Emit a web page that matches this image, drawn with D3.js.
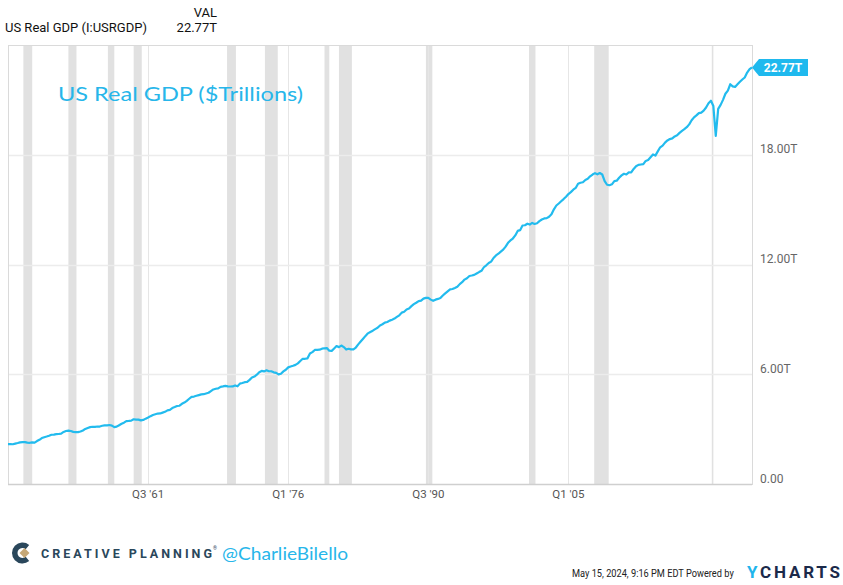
<!DOCTYPE html>
<html>
<head>
<meta charset="utf-8">
<script src="https://cdn.jsdelivr.net/npm/d3@7"></script>
<style>
  body { margin: 0; background: #fff; }
  svg { display: block; font-family: Roboto, "Liberation Sans", sans-serif; }
</style>
</head>
<body>
<div id="chart"></div>
<script>
// quarterly US real GDP, billions of chained 2017 dollars, starting 1947 Q1
var gdp1940s = [2182.7, 2176.9, 2172.4, 2206.5, 2239.7, 2276.7, 2289.8, 2292.4,
    2260.8, 2253.1, 2276.4, 2257.4];
var gdp1950s = [2346.1, 2417.7, 2511.1, 2559.2, 2594.0, 2638.9, 2693.3, 2699.6,
    2727.0, 2733.6, 2755.6, 2847.1, 2896.6, 2919.3, 2897.3, 2850.9,
    2838.8, 2837.3, 2869.5, 2926.4, 3011.3, 3064.0, 3108.7, 3130.1,
    3124.0, 3142.8, 3140.8, 3182.9, 3205.5, 3201.0, 3223.9, 3190.4,
    3109.6, 3138.1, 3212.9, 3290.6, 3353.3, 3441.6, 3448.1, 3463.0];
var gdp1960s = [3539.6, 3515.3, 3520.1, 3477.6, 3504.0, 3572.7, 3633.8, 3708.5,
    3774.4, 3815.6, 3852.4, 3858.7, 3902.8, 3946.0, 4026.6, 4054.8,
    4151.9, 4205.4, 4265.0, 4279.4, 4385.3, 4451.4, 4546.8, 4659.6,
    4765.9, 4779.8, 4822.0, 4861.3, 4900.8, 4908.1, 4950.1, 4987.3,
    5079.0, 5169.2, 5205.5, 5227.6, 5313.8, 5334.2, 5364.1, 5339.0];
var gdp1970s = [5330.4, 5332.6, 5387.8, 5339.3, 5487.6, 5519.8, 5566.1, 5580.8,
    5693.1, 5821.9, 5876.1, 5976.8, 6112.8, 6182.8, 6154.1, 6213.3,
    6163.3, 6164.2, 6103.3, 6079.5, 5991.0, 6029.7, 6154.6, 6244.0,
    6375.6, 6423.5, 6462.0, 6512.4, 6593.0, 6723.9, 6845.2, 6845.1,
    6869.2, 7133.5, 7209.1, 7328.8, 7337.8, 7343.8, 7400.1, 7419.7];
var gdp1980s = [7432.9, 7286.9, 7279.5, 7408.4, 7539.1, 7483.3, 7568.6, 7485.7,
    7351.4, 7391.5, 7358.4, 7363.9, 7460.4, 7633.4, 7786.1, 7944.6,
    8096.6, 8237.0, 8312.4, 8382.4, 8466.9, 8537.8, 8666.5, 8732.6,
    8820.9, 8853.6, 8933.0, 8983.4, 9044.4, 9134.0, 9220.6, 9368.9,
    9415.9, 9540.6, 9594.8, 9725.4, 9831.4, 9910.4, 10000.8, 10024.9];
var gdp1990s = [10133.6, 10175.0, 10175.5, 10079.7, 10013.6, 10078.4, 10117.8, 10165.2,
    10305.3, 10419.4, 10530.3, 10638.3, 10659.3, 10718.0, 10781.1, 10927.6,
    11030.4, 11174.5, 11250.5, 11373.6, 11400.0, 11434.3, 11510.0, 11585.0,
    11655.0, 11850.0, 11955.0, 12080.0, 12155.0, 12355.0, 12495.0, 12590.0,
    12705.0, 12810.0, 12975.0, 13185.0, 13315.0, 13420.0, 13590.0, 13837.0];
var gdp2000s = [13878.1, 14130.9, 14145.3, 14229.8, 14183.1, 14271.7, 14214.5, 14253.6,
    14372.8, 14460.8, 14519.6, 14537.6, 14614.1, 14743.6, 15016.9, 15224.6,
    15335.5, 15454.8, 15577.0, 15705.5, 15853.1, 15957.6, 16091.2, 16185.5,
    16418.1, 16468.5, 16494.4, 16620.7, 16682.1, 16820.8, 16918.4, 16994.0,
    16930.0, 17000.0, 16920.0, 16560.0, 16360.0, 16335.0, 16385.0, 16560.0];
var gdp2010s = [16582.0, 16744.0, 16873.0, 16961.0, 16920.0, 17035.0, 17031.0, 17223.0,
    17368.0, 17444.0, 17469.0, 17490.0, 17662.0, 17710.0, 17860.0, 18016.0,
    17954.0, 18186.0, 18407.0, 18501.0, 18666.0, 18783.0, 18857.0, 18893.0,
    19002.0, 19062.0, 19197.0, 19304.0, 19398.0, 19506.0, 19660.0, 19883.0,
    20044.0, 20150.0, 20276.0, 20304.0, 20415.0, 20585.0, 20817.0, 20952.0];
var gdp2020s = [20666.0, 19035.0, 20511.0, 20725.0, 21001.0, 21334.0, 21510.0, 21854.0,
    21738.0, 21708.0, 21852.0, 21990.0, 22113.0, 22225.0, 22491.0, 22679.0,
    22769.0];

// NBER recessions, [start, end] as year-month
var recessions = [
    ["1948-11", "1949-10"], ["1953-07", "1954-05"], ["1957-08", "1958-04"],
    ["1960-04", "1961-02"], ["1969-12", "1970-11"], ["1973-11", "1975-03"],
    ["1980-01", "1980-07"], ["1981-07", "1982-11"], ["1990-07", "1991-03"],
    ["2001-03", "2001-11"], ["2007-12", "2009-06"], ["2020-02", "2020-04"]
];

var xTickQuarters = ["1961-3", "1976-1", "1990-3", "2005-1"];
var xTickLabels = ["Q3 '61", "Q1 '76", "Q3 '90", "Q1 '05"];
var yTicks = [0, 6, 12, 18];

var seriesName = "US Real GDP (I:USRGDP)";
var lastLabel = "22.77T";

var W = 843, H = 585;
var margin = {top: 45, right: 91, bottom: 101, left: 8};
var lineColor = "#22bbee";

var gdp = [].concat(gdp1940s, gdp1950s, gdp1960s, gdp1970s, gdp1980s,
    gdp1990s, gdp2000s, gdp2010s, gdp2020s);

// each quarter is plotted at its last day
function quarterEnd(year, q) { return new Date(year, q * 3, 0); }
function monthStart(s) { var p = s.split("-"); return new Date(+p[0], +p[1] - 1, 1); }

var data = gdp.map(function(v, i) {
    return {date: quarterEnd(1947 + Math.floor(i / 4), i % 4 + 1), value: v / 1000};
});

var svg = d3.select("#chart").append("svg")
    .attr("width", W)
    .attr("height", H);

var x = d3.scaleTime()
    .domain(d3.extent(data, function(d) { return d.date; }))
    .range([margin.left, W - margin.right]);

var y = d3.scaleLinear()
    .domain([0, 24])
    .range([H - margin.bottom, margin.top]);

// recession bands
svg.append("g").selectAll("rect")
    .data(recessions)
    .enter().append("rect")
    .attr("x", function(d) { return x(monthStart(d[0])); })
    .attr("width", function(d) { return Math.max(1.5, x(monthStart(d[1])) - x(monthStart(d[0]))); })
    .attr("y", margin.top)
    .attr("height", y(0) - margin.top)
    .attr("fill", "#e1e1e1");

// grid
var tickDates = xTickQuarters.map(function(s) {
    var p = s.split("-"); return quarterEnd(+p[0], +p[1]);
});

svg.append("g").selectAll("line")
    .data(tickDates)
    .enter().append("line")
    .attr("x1", function(d) { return Math.round(x(d)) + 0.5; })
    .attr("x2", function(d) { return Math.round(x(d)) + 0.5; })
    .attr("y1", margin.top)
    .attr("y2", y(0))
    .attr("stroke", "#e6e6e6");

svg.append("g").selectAll("line")
    .data(yTicks.slice(1))
    .enter().append("line")
    .attr("x1", margin.left)
    .attr("x2", W - margin.right)
    .attr("y1", function(d) { return Math.round(y(d)) + 0.5; })
    .attr("y2", function(d) { return Math.round(y(d)) + 0.5; })
    .attr("stroke", "#ececec")
    .attr("stroke-width", 1.5);

// frame
svg.append("rect")
    .attr("x", margin.left + 0.5)
    .attr("y", margin.top + 0.5)
    .attr("width", W - margin.right - margin.left)
    .attr("height", y(0) - margin.top)
    .attr("fill", "none")
    .attr("stroke", "#dadada");

svg.append("line")
    .attr("x1", margin.left).attr("x2", W - margin.right)
    .attr("y1", y(0) + 0.5).attr("y2", y(0) + 0.5)
    .attr("stroke", "#cfcfcf").attr("stroke-width", 1.5);

// axis labels
svg.append("g").selectAll("text")
    .data(tickDates)
    .enter().append("text")
    .attr("x", function(d) { return x(d); })
    .attr("y", y(0) + 14)
    .attr("text-anchor", "middle")
    .attr("font-size", 11.5)
    .attr("fill", "#555")
    .text(function(d, i) { return xTickLabels[i]; });

svg.append("g").selectAll("text")
    .data(yTicks)
    .enter().append("text")
    .attr("x", W - margin.right + 8)
    .attr("y", function(d) { return y(d) - 1.5; })
    .attr("font-size", 12)
    .attr("fill", "#666")
    .text(function(d) { return d === 0 ? "0.00" : d3.format(".2f")(d) + "T"; });

// the line
var line = d3.line()
    .x(function(d) { return x(d.date); })
    .y(function(d) { return y(d.value); });

svg.append("path")
    .datum(data)
    .attr("d", line)
    .attr("fill", "none")
    .attr("stroke", lineColor)
    .attr("stroke-width", 2.2)
    .attr("stroke-linejoin", "round");

// last value tag
var last = data[data.length - 1];
var tx = x(last.date), ty = y(last.value);
svg.append("path")
    .attr("d", "M" + tx + "," + ty + "L" + (tx + 7) + "," + (ty - 8.5) + "H" + (tx + 56) +
        "V" + (ty + 8.5) + "H" + (tx + 7) + "Z")
    .attr("fill", "#1fb9ee");
svg.append("text")
    .attr("x", tx + 31)
    .attr("y", ty + 4.5)
    .attr("text-anchor", "middle")
    .attr("font-size", 12)
    .attr("font-weight", "bold")
    .attr("fill", "#fff")
    .text(lastLabel);

// title inside plot
svg.append("text")
    .attr("x", 58)
    .attr("y", 101)
    .attr("font-family", "'Segoe Print', 'Comic Sans MS', Lato, sans-serif")
    .attr("font-size", 20)
    .attr("textLength", 245)
    .attr("lengthAdjust", "spacingAndGlyphs")
    .attr("fill", "#27b6ea")
    .text("US Real GDP ($Trillions)");

// header
svg.append("text")
    .attr("x", 5).attr("y", 32)
    .attr("font-size", 13).attr("fill", "#111")
    .text(seriesName);
svg.append("text")
    .attr("x", 217).attr("y", 16.5)
    .attr("text-anchor", "end")
    .attr("font-size", 13).attr("fill", "#111")
    .text("VAL");
svg.append("text")
    .attr("x", 217).attr("y", 32)
    .attr("text-anchor", "end")
    .attr("font-size", 13).attr("fill", "#111")
    .text(lastLabel);

// footer: creative planning logo
var logo = svg.append("g").attr("transform", "translate(22.5,553)");
logo.append("path")
    .attr("d", d3.arc().innerRadius(5).outerRadius(10.5)
        .startAngle(Math.PI * 0.78).endAngle(Math.PI * 2.22)())
    .attr("fill", "#2a475b");
logo.append("path")
    .attr("d", "M2,-5L7,0L2,5L-3,0Z")
    .attr("fill", "#c6a876");

svg.append("text")
    .attr("x", 41).attr("y", 558)
    .attr("font-size", 12.5)
    .attr("font-weight", "bold")
    .attr("textLength", 171)
    .attr("lengthAdjust", "spacing")
    .attr("fill", "#2a475b")
    .text("CREATIVE PLANNING");
svg.append("text")
    .attr("x", 213).attr("y", 550)
    .attr("font-size", 5)
    .attr("fill", "#2a475b")
    .text("\u00ae");
svg.append("text")
    .attr("x", 222).attr("y", 560)
    .attr("font-family", "'Segoe Print', 'Comic Sans MS', Lato, sans-serif")
    .attr("font-size", 18)
    .attr("textLength", 126)
    .attr("lengthAdjust", "spacingAndGlyphs")
    .attr("fill", "#27b6ea")
    .text("@CharlieBilello");

// footer: timestamp and ycharts (timestamp squeezed horizontally like the original)
svg.append("text")
    .attr("transform", "translate(572,577) scale(0.84,1)")
    .attr("font-size", 11)
    .attr("fill", "#222")
    .text("May 15, 2024, 9:16 PM EDT Powered by");
var yc = svg.append("text")
    .attr("x", 747).attr("y", 578)
    .attr("font-size", 17)
    .attr("font-weight", "bold")
    .attr("textLength", 93)
    .attr("lengthAdjust", "spacing");
yc.append("tspan").attr("fill", "#1fb5ec").text("Y");
yc.append("tspan").attr("fill", "#1b2a4a").text("CHARTS");
</script>
</body>
</html>
